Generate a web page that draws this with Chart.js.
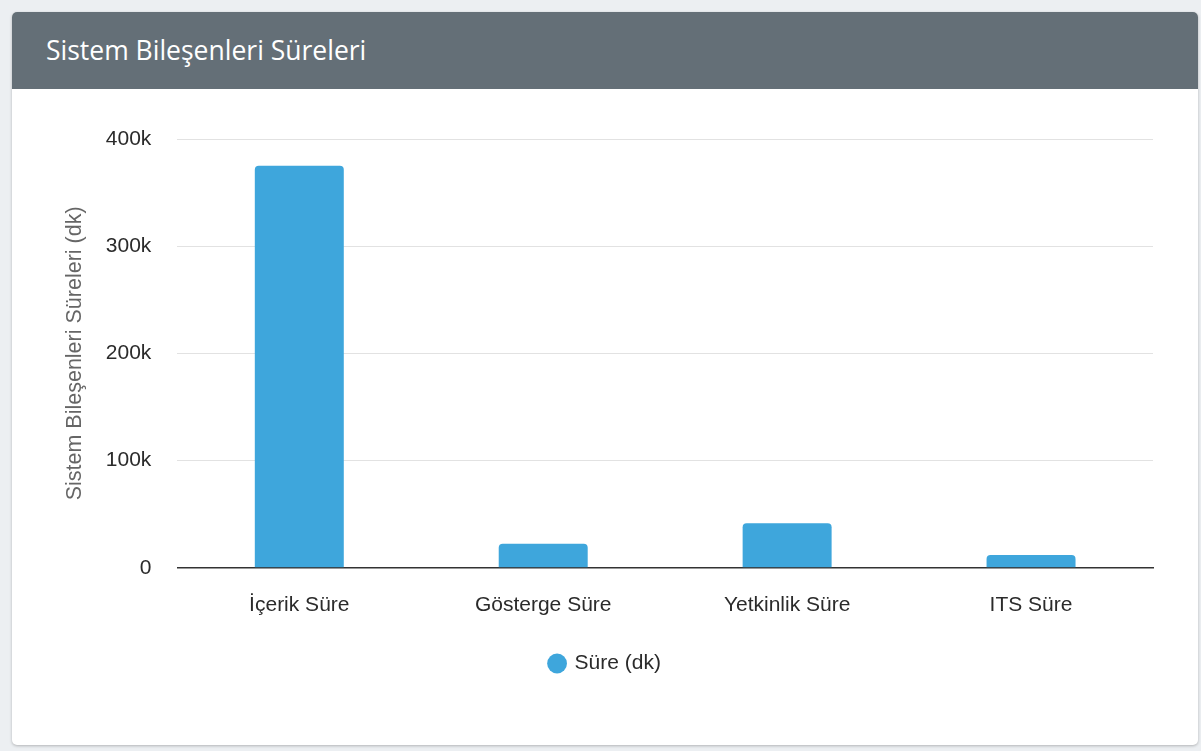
<!DOCTYPE html>
<html>
<head>
<meta charset="utf-8">
<title>Sistem Bileşenleri Süreleri</title>
<script src="https://cdn.jsdelivr.net/npm/chart.js"></script>
<style>
	body { margin: 0; background: #eceff2; width: 1201px; height: 751px; overflow: hidden; }
	.card { position: absolute; left: 12px; top: 12px; width: 1186px; height: 733px; background: #fff; border-radius: 5px; box-shadow: 0 1px 3px rgba(0,0,0,0.25); overflow: hidden; }
	.card-header { height: 77px; background: #646f77; color: #fff; font-family: "Open Sans", sans-serif; font-size: 26.5px; line-height: 77px; padding-left: 34px; }
	.chart-box { position: absolute; left: 0; top: 77px; width: 1186px; height: 656px; }
</style>
</head>
<body>
	<div class="card">
		<div class="card-header">Sistem Bileşenleri Süreleri</div>
		<div class="chart-box">
			<canvas id="grafico"></canvas>
		</div>
	</div>
<script>
	// dados do grafico
	var categorias = ["İçerik Süre", "Gösterge Süre", "Yetkinlik Süre", "ITS Süre"];
	var sureler = [375000, 22500, 41500, 12000];
	var serieNome = "Süre (dk)";
	var eixoY = "Sistem Bileşenleri Süreleri (dk)";

	var fonte = "'Liberation Sans', Arial, Helvetica, sans-serif";

	new Chart(document.getElementById("grafico"), {
		type: "bar",
		data: {
			labels: categorias,
			datasets: [{
				label: serieNome,
				data: sureler,
				backgroundColor: "#3ea6dc",
				borderRadius: 4,
				borderSkipped: "start",
				categoryPercentage: 0.8,
				barPercentage: 0.456
			}]
		},
		options: {
			responsive: true,
			maintainAspectRatio: false,
			animation: false,
			layout: { padding: { left: 46, right: 45, top: 50, bottom: 61 } },
			plugins: {
				tooltip: { enabled: false },
				legend: {
					position: "bottom",
					labels: {
						usePointStyle: true,
						pointStyle: "circle",
						boxWidth: 14,
						boxHeight: 14,
						color: "#2b2b2b",
						font: { family: fonte, size: 21 },
						padding: 10
					}
				}
			},
			scales: {
				x: {
					grid: { display: false, drawTicks: false },
					border: { display: true, color: "#333", width: 1.5 },
					ticks: { color: "#2b2b2b", font: { family: fonte, size: 21 }, padding: 25 }
				},
				y: {
					min: 0,
					max: 400000,
					grid: { color: "#e2e2e2", lineWidth: 1, drawTicks: false },
					border: { display: false },
					ticks: {
						stepSize: 100000,
						color: "#2b2b2b",
						font: { family: fonte, size: 21 },
						padding: 26,
						callback: function (v) { return v == 0 ? "0" : (v / 1000) + "k"; }
					},
					title: {
						display: true,
						text: eixoY,
						color: "#666",
						font: { family: fonte, size: 21.5 },
						padding: { top: 4, bottom: -8 }
					}
				}
			}
		}
	});
</script>
</body>
</html>
